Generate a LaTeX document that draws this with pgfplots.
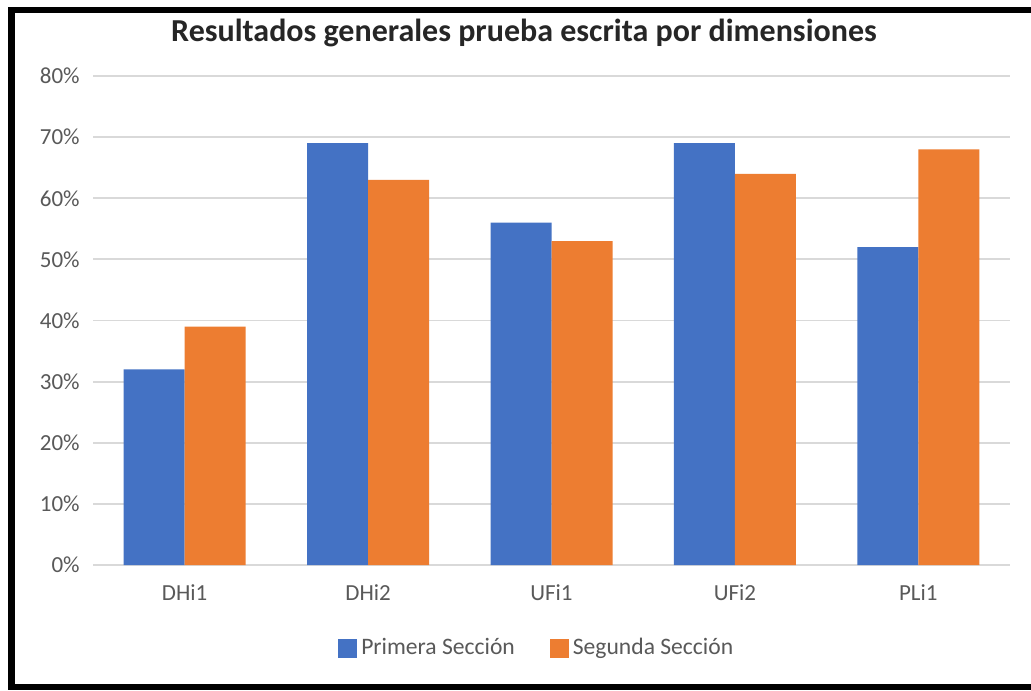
\documentclass[border=0pt]{standalone}
\usepackage{pgfplots}
\pgfplotsset{compat=1.18}
\usepackage{fontspec}
\setmainfont{Carlito}
\definecolor{serieA}{HTML}{4472C4}
\definecolor{serieB}{HTML}{ED7D31}
\definecolor{rejilla}{HTML}{D9D9D9}
\definecolor{etiq}{HTML}{595959}
\begin{document}
\begin{tikzpicture}[x=1pt,y=1pt]
\useasboundingbox (0,0) rectangle (515.5,345);
\fill[white] (0,0) rectangle (515.5,345);
% marco del grafico (recortado a la derecha)
\draw[line width=3.2pt, black] (515.5,340) -- (5.75,340) -- (5.75,1.6) -- (515.5,1.6);
\node[font=\fontsize{16}{18}\selectfont\bfseries, text=black!85] at (262,328.5) {Resultados generales prueba escrita por dimensiones};
\begin{axis}[
    at={(46.5pt,62.5pt)}, anchor=south west,
    scale only axis, width=458.5pt, height=244.5pt,
    ybar=0pt, bar width=30.5pt,
    xmin=-0.5, xmax=4.5, ymin=0, ymax=80,
    enlargelimits=false,
    axis line style={draw=none},
    major tick length=0pt,
    ymajorgrids, grid style={rejilla, line width=0.9pt},
    xtick={0,1,2,3,4},
    xticklabels={DHi1, DHi2, UFi1, UFi2, PLi1},
    ytick={0,10,...,80},
    yticklabels={0\%,10\%,20\%,30\%,40\%,50\%,60\%,70\%,80\%},
    ticklabel style={font=\fontsize{11.5}{13}\selectfont, text=etiq},
    xticklabel style={anchor=base, yshift=-17.5pt},
    yticklabel style={anchor=east, inner sep=0pt, xshift=-6.5pt},
    legend columns=2,
    legend style={draw=none, fill=none, at={(0.485,-0.17)}, anchor=center,
        font=\fontsize{11.8}{13}\selectfont, text=etiq,
        /tikz/every even column/.append style={column sep=15.5pt}},
    legend cell align=left,
    legend image code/.code={\fill[#1] (0pt,-4.75pt) rectangle (9.5pt,4.75pt);},
]
\addplot[fill=serieA, draw=none] coordinates {(0,32) (1,69) (2,56) (3,69) (4,52)};
\addplot[fill=serieB, draw=none] coordinates {(0,39) (1,63) (2,53) (3,64) (4,68)};
\legend{Primera Sección, Segunda Sección}
\end{axis}
\end{tikzpicture}
\end{document}
